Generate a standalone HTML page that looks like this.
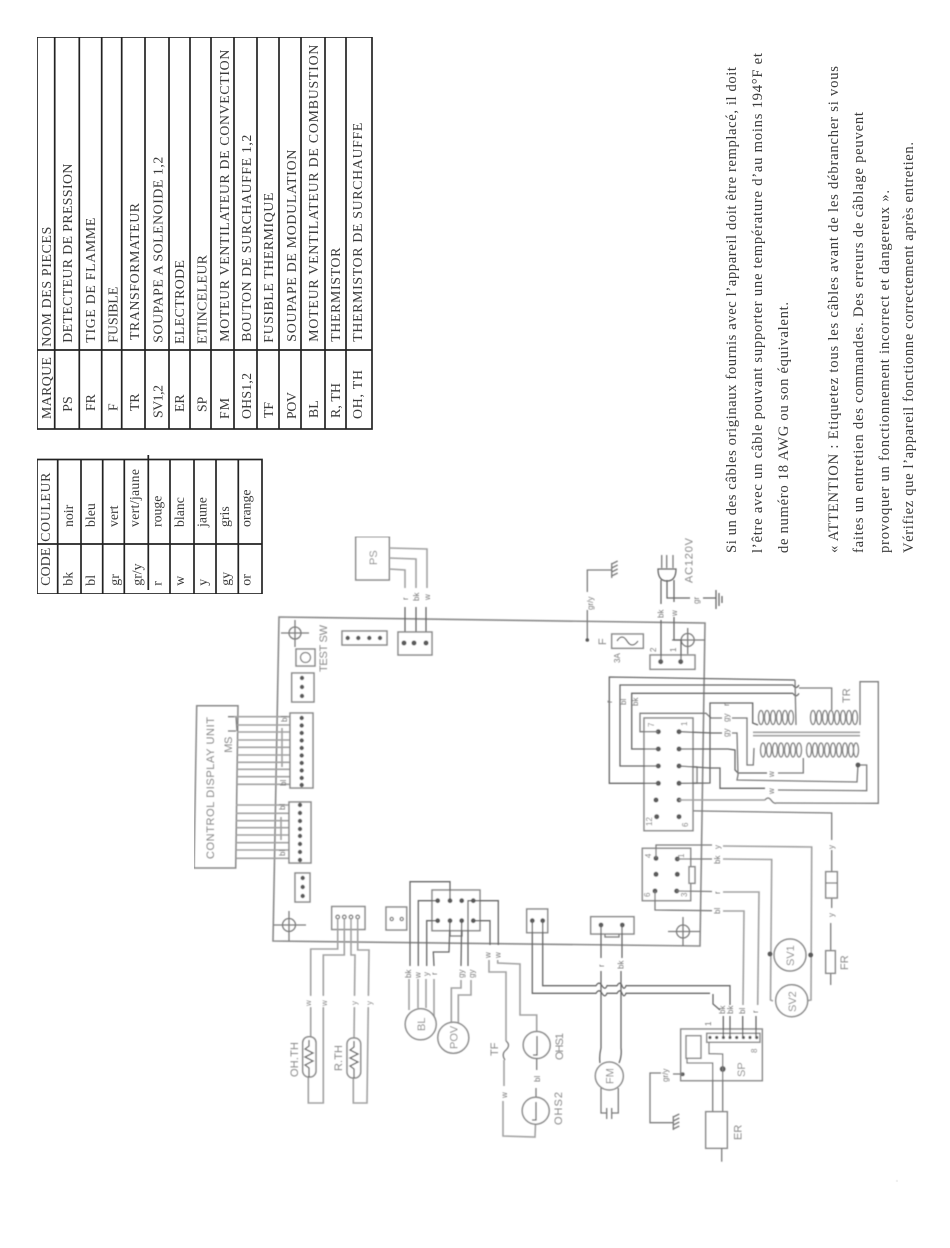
<!DOCTYPE html>
<html lang="fr"><head><meta charset="utf-8"><title>Schéma de câblage</title>
<style>
html,body{margin:0;padding:0;background:#fff}
svg{display:block}
.g{fill:none;stroke:#7c7c7c;stroke-width:1.3}
.d{fill:none;stroke:#666;stroke-width:1.3}
.l{fill:none;stroke:#a2a2a2;stroke-width:1.6}
.p{fill:#5a5a5a;stroke:none}
.b{fill:#fff;stroke:#8a8a8a;stroke-width:1.5}
.t{font-family:"Liberation Serif",serif;font-size:13.8px;fill:#3a3a3a}
.s{font-family:"Liberation Serif",serif;font-size:14.6px;fill:#3a3a3a}
.a{font-family:"Liberation Sans",sans-serif;font-size:8px;fill:#777}
.a2{font-family:"Liberation Sans",sans-serif;font-size:11px;fill:#888}
</style></head><body>
<svg xmlns="http://www.w3.org/2000/svg" width="950" height="1248" viewBox="0 0 950 1248">
<defs><filter id="bl" x="0" y="0" width="100%" height="100%"><feGaussianBlur stdDeviation="0.6"/></filter>
<filter id="bs" x="0" y="0" width="100%" height="100%"><feGaussianBlur stdDeviation="0.3"/></filter></defs>
<rect width="950" height="1248" fill="#fff"/>

<g filter="url(#bs)">
<!-- Parts table -->
<g fill="none" stroke="#222" stroke-width="1.7">
<rect x="37" y="37" width="335" height="392"/>
<path d="M37 350H372M54.7 37V429M79.3 37V429M101.7 37V429M121.7 37V429M145 37V429M169 37V429M190 37V429M211 37V429M234 37V429M257 37V429M279 37V429M301 37V429M325 37V429M346 37V429"/>
</g>
<g class="t">
<text transform="translate(51,346.7) rotate(-90)" textLength="120">NOM DES PIECES</text>
<text transform="translate(72,342.7) rotate(-90)" textLength="179">DETECTEUR DE PRESSION</text>
<text transform="translate(95,342.7) rotate(-90)" textLength="125">TIGE DE FLAMME</text>
<text transform="translate(117.7,342.7) rotate(-90)" textLength="56">FUSIBLE</text>
<text transform="translate(139,340) rotate(-90)" textLength="137">TRANSFORMATEUR</text>
<text transform="translate(162.7,342.7) rotate(-90)" textLength="186">SOUPAPE A SOLENOIDE 1,2</text>
<text transform="translate(184,344) rotate(-90)" textLength="84">ELECTRODE</text>
<text transform="translate(206.7,344) rotate(-90)" textLength="89">ETINCELEUR</text>
<text transform="translate(229,341.7) rotate(-90)" textLength="292">MOTEUR VENTILATEUR DE CONVECTION</text>
<text transform="translate(251,341.7) rotate(-90)" textLength="207">BOUTON DE SURCHAUFFE 1,2</text>
<text transform="translate(273,342.7) rotate(-90)" textLength="150">FUSIBLE THERMIQUE</text>
<text transform="translate(296,341.7) rotate(-90)" textLength="192">SOUPAPE DE MODULATION</text>
<text transform="translate(318,341.7) rotate(-90)" textLength="297">MOTEUR VENTILATEUR DE COMBUSTION</text>
<text transform="translate(340,341.7) rotate(-90)" textLength="94">THERMISTOR</text>
<text transform="translate(362,341.7) rotate(-90)" textLength="219">THERMISTOR DE SURCHAUFFE</text>
<text transform="translate(51,419) rotate(-90)" textLength="62">MARQUE</text>
<text transform="translate(72,411.7) rotate(-90)">PS</text>
<text transform="translate(95,411) rotate(-90)">FR</text>
<text transform="translate(117.7,411) rotate(-90)">F</text>
<text transform="translate(139,411) rotate(-90)">TR</text>
<text transform="translate(162.7,418) rotate(-90)" textLength="33">SV1,2</text>
<text transform="translate(184,412) rotate(-90)">ER</text>
<text transform="translate(206.7,412) rotate(-90)">SP</text>
<text transform="translate(229,419) rotate(-90)" textLength="21">F M</text>
<text transform="translate(251,419) rotate(-90)" textLength="46">OHS1,2</text>
<text transform="translate(273,418) rotate(-90)">TF</text>
<text transform="translate(296,419) rotate(-90)" textLength="27">POV</text>
<text transform="translate(318,418) rotate(-90)">BL</text>
<text transform="translate(340,418) rotate(-90)" textLength="35">R, TH</text>
<text transform="translate(362,419) rotate(-90)" textLength="49">OH, TH</text>
</g>

<!-- Colour table -->
<g fill="none" stroke="#222" stroke-width="1.7">
<rect x="37" y="459.5" width="225" height="134.5"/>
<path d="M37 544H262M57.7 459.5V594M81 459.5V594M102.7 459.5V594M124.3 459.5V594M148.3 455V590M170 459.5V594M194 459.5V594M216 459.5V594M238.3 459.5V594"/>
</g>
<g class="t">
<text transform="translate(50,541.7) rotate(-90)" textLength="69">COULEUR</text>
<text transform="translate(50,585.7) rotate(-90)" textLength="38">CODE</text>
<text transform="translate(73,527) rotate(-90)">noir</text>
<text transform="translate(95,527) rotate(-90)">bleu</text>
<text transform="translate(118,527) rotate(-90)">vert</text>
<text transform="translate(139,527) rotate(-90)" textLength="58">vert/jaune</text>
<text transform="translate(161.7,527) rotate(-90)">rouge</text>
<text transform="translate(184,527) rotate(-90)">blanc</text>
<text transform="translate(206.7,527) rotate(-90)">jaune</text>
<text transform="translate(229,527) rotate(-90)">gris</text>
<text transform="translate(250.7,527) rotate(-90)">orange</text>
<text transform="translate(72.7,585.7) rotate(-90)">bk</text>
<text transform="translate(95,585.7) rotate(-90)">bl</text>
<text transform="translate(119,585.7) rotate(-90)">gr</text>
<text transform="translate(141.7,585.7) rotate(-90)">gr/y</text>
<text transform="translate(161.7,585.7) rotate(-90)">r</text>
<text transform="translate(184,585.7) rotate(-90)">w</text>
<text transform="translate(207,585.7) rotate(-90)">y</text>
<text transform="translate(230,585.7) rotate(-90)">gy</text>
<text transform="translate(250.7,585.7) rotate(-90)">or</text>
</g>

<!-- Right-hand notes -->
<g class="s">
<text transform="translate(736,553) rotate(-90)" textLength="486">Si un des câbles originaux fournis avec l’appareil doit être remplacé, il doit</text>
<text transform="translate(762,553) rotate(-90)" textLength="500">l’être avec un câble pouvant supporter une température d’au moins 194°F et</text>
<text transform="translate(788,553) rotate(-90)" textLength="251">de numéro 18 AWG ou son équivalent.</text>
<text transform="translate(838,553) rotate(-90)" textLength="487">« ATTENTION : Etiquetez tous les câbles avant de les débrancher si vous</text>
<text transform="translate(863,553) rotate(-90)" textLength="441">faites un entretien des commandes. Des erreurs de câblage peuvent</text>
<text transform="translate(889,553) rotate(-90)" textLength="363">provoquer un fonctionnement incorrect et dangereux ».</text>
<text transform="translate(913,553) rotate(-90)" textLength="411">Vérifiez que l’appareil fonctionne correctement après entretien.</text>
</g>
</g>

<g filter="url(#bl)">
<!-- Board -->
<polygon points="279,617 705,623 700,946 273,941" fill="none" stroke="#8a8a8a" stroke-width="1.6"/>
<g class="g" stroke-width="1.3">
<circle cx="295" cy="633" r="6"/><path d="M281 633H309M295 620V647"/>
<circle cx="289" cy="925" r="6.5"/><path d="M274 925H306M289 911V941"/>
<circle cx="687.7" cy="640" r="6.5"/><path d="M672 640H705M687.7 628V654"/>
<circle cx="683" cy="931.5" r="6.5"/><path d="M668 931.5H700M683 917V946"/>
</g>

<!-- PS -->
<rect x="355.7" y="536.7" width="33.6" height="43.3" class="b" fill="none"/>
<polyline class="l" points="389,548 427,549 427,588"/>
<polyline class="l" points="389,558 416,559 416,588"/>
<polyline class="l" points="389,569 405,570 405,588"/>
<path class="d" d="M405 607V643M416 607V643M426 607V643"/>
<rect x="398" y="632" width="34" height="23" class="b" fill="none" stroke-width="1"/>
<circle class="p" cx="404" cy="643" r="2.5"/><circle class="p" cx="414" cy="643" r="2.5"/><circle class="p" cx="426" cy="643" r="2.5"/>
<g class="a"><text transform="translate(408,600) rotate(-90)">r</text><text transform="translate(419,601) rotate(-90)">bk</text><text transform="translate(430,600) rotate(-90)">w</text></g>
<text class="a2" transform="translate(377,565) rotate(-90)">PS</text>

<!-- small connectors -->
<rect x="342" y="631" width="45" height="14" class="b" fill="none"/>
<circle class="p" cx="347.7" cy="638" r="2.2"/><circle class="p" cx="358.3" cy="638" r="2.2"/><circle class="p" cx="369.3" cy="638" r="2.2"/><circle class="p" cx="380" cy="638" r="2.2"/>
<rect x="296" y="649" width="19" height="17" class="b" fill="none"/><circle cx="305.5" cy="657.5" r="5" class="g"/>
<text class="a2" transform="translate(327,672) rotate(-90)" textLength="47">TEST SW</text>
<rect x="291.7" y="673" width="22.3" height="29" class="b" fill="none"/>
<circle class="p" cx="302" cy="678" r="2.2"/><circle class="p" cx="302" cy="687" r="2.2"/><circle class="p" cx="302" cy="696" r="2.2"/>
<rect x="295" y="873" width="15" height="29" class="b" fill="none"/>
<circle class="p" cx="302.7" cy="878" r="2.2"/><circle class="p" cx="302.7" cy="887" r="2.2"/><circle class="p" cx="302.7" cy="896" r="2.2"/>

<!-- Control display unit -->
<polygon points="196.7,705.7 238,705.7 235.7,868 194,868" fill="none" stroke="#888" stroke-width="1.5"/>
<text class="a2" transform="translate(214,859) rotate(-90)" textLength="142">CONTROL DISPLAY UNIT</text>
<text class="a2" transform="translate(232,752.7) rotate(-90)" textLength="16">MS</text>
<path class="g" d="M228 716.7H236M236 716.7L237 731M228 731H236"/>
<path class="l" d="M234 716.7H290M237 725H290M237 732H290M237 740H290M237 747.3H290M237 755H290M237 762.3H290M237 769.3H290M237 776.7H290M237 784.3H290"/>
<path class="l" d="M236 805H290M236 813.3H290M236 820.7H290M236 827.7H290M236 835H290M236 842.7H290M236 850H290M236 858.3H290"/>
<path class="d" d="M290 718H302M290 725.5H302M290 733H302M290 740.5H302M290 748H302M290 755.5H302M290 763H302M290 770.5H302M290 778H302M290 785H302"/>
<path class="d" d="M290 805H300M290 813H300M290 821H300M290 829H300M290 836H300M290 844H300M290 852H300M290 860H300"/>
<rect x="290" y="713" width="23" height="75" class="b" fill="none" stroke-width="1.8"/>
<rect x="289" y="802" width="22" height="61" class="b" fill="none" stroke-width="1.8"/>
<g class="p">
<circle cx="301.7" cy="718" r="2.2"/><circle cx="301.7" cy="725.5" r="2.2"/><circle cx="301.7" cy="733" r="2.2"/><circle cx="301.7" cy="740.5" r="2.2"/><circle cx="301.7" cy="748" r="2.2"/><circle cx="301.7" cy="755.5" r="2.2"/><circle cx="301.7" cy="763" r="2.2"/><circle cx="301.7" cy="770.5" r="2.2"/><circle cx="301.7" cy="778" r="2.2"/><circle cx="301.7" cy="785" r="2.2"/>
<circle cx="300" cy="805" r="2.2"/><circle cx="300" cy="813" r="2.2"/><circle cx="300" cy="821" r="2.2"/><circle cx="300" cy="829" r="2.2"/><circle cx="300" cy="836" r="2.2"/><circle cx="300" cy="844" r="2.2"/><circle cx="300" cy="852" r="2.2"/><circle cx="300" cy="860" r="2.2"/>
</g>
<path class="l" d="M282 728V767M281 817V840"/>
<g class="a"><text transform="translate(287,722) rotate(-90)">bl</text><text transform="translate(286,786) rotate(-90)">bl</text><text transform="translate(285,810) rotate(-90)">bl</text><text transform="translate(285,856) rotate(-90)">bl</text></g>

<!-- Bottom left connector and thermistors -->
<rect x="331.7" y="906.5" width="33.3" height="23" class="b" fill="none"/>
<g class="g"><circle cx="337.7" cy="917" r="1.8"/><circle cx="344.3" cy="917" r="1.8"/><circle cx="351" cy="917" r="1.8"/><circle cx="357.7" cy="917" r="1.8"/></g>
<polyline class="l" points="337.7,919 337.7,949 310.7,949 310.7,1037"/>
<polyline class="l" points="344.3,919 344.3,955 323.3,955 323.3,1103 308.3,1103 308.3,1077"/>
<polyline class="l" points="351,919 351,955 355,955 354,1040"/>
<polyline class="l" points="357.7,919 357.7,950 369,950 367,1103 353.3,1103 353.3,1077"/>
<rect x="302.7" y="1036.7" width="13.3" height="40.3" rx="6" class="b" fill="none"/>
<polyline class="d" points="309,1040 309,1046 305,1049 313,1053 305,1057 313,1061 305,1065 309,1068 309,1077"/>
<rect x="347" y="1038" width="13.7" height="40" rx="6" class="b" fill="none"/>
<polyline class="d" points="354,1041 354,1047 350,1050 358,1054 350,1058 358,1062 350,1066 354,1069 354,1078"/>
<text class="a2" transform="translate(298,1077) rotate(-90)" textLength="35">OH.TH</text>
<text class="a2" transform="translate(342,1071) rotate(-90)" textLength="26">R.TH</text>
<g class="a"><rect x="304" y="996" width="8" height="11" fill="#fff"/><rect x="320" y="996" width="8" height="11" fill="#fff"/><rect x="350" y="996" width="8" height="11" fill="#fff"/><rect x="365" y="996" width="8" height="11" fill="#fff"/>
<text transform="translate(311,1006) rotate(-90)">w</text><text transform="translate(327,1006) rotate(-90)">w</text><text transform="translate(357,1005) rotate(-90)">y</text><text transform="translate(372,1005) rotate(-90)">y</text></g>

<rect x="386" y="907" width="20.7" height="23" class="b" fill="none"/>
<circle class="g" cx="391.7" cy="919" r="1.6"/><circle class="g" cx="401.7" cy="919" r="1.6"/>

<!-- 8-pin -->
<rect x="432" y="890" width="48" height="40.7" class="b" fill="none"/>
<path class="g" d="M450 930V936H462V930"/>
<polyline class="d" points="450,900.7 450,881.7 410,881.7 410,966"/>
<polyline class="d" points="437.7,900.7 418.3,900.7 418.3,966"/>
<polyline class="d" points="437.7,920.7 426.7,920.7 426.7,966"/>
<polyline class="d" points="450,920.7 449,952 433.3,952 434,966"/>
<polyline class="d" points="461.7,920.7 461,966"/>
<polyline class="d" points="473.3,900.7 468,900.7 468,966"/>
<polyline class="l" points="409,979 409,1010"/><polyline class="l" points="418,979 418,1008"/><polyline class="l" points="426,979 426,1008"/><polyline class="l" points="434,979 434,1016"/>
<polyline class="l" points="461,980 461,988 451.3,988 451.3,1023"/>
<polyline class="l" points="471,980 471,995 458.3,995 458.3,1023"/>
<polyline class="d" points="473.3,900.7 498.3,900.7 498.3,945"/>
<polyline class="d" points="473.3,920.7 490,920.7 490,945"/>
<polyline class="l" points="497.7,960 497.7,963 520,964 520,1015 536.7,1015 536.7,1033"/>
<polyline class="l" points="489,960 489,972 506,972 506,1041"/>
<g class="p"><circle cx="437.7" cy="900.7" r="2.4"/><circle cx="450" cy="900.7" r="2.4"/><circle cx="461.7" cy="900.7" r="2.4"/><circle cx="473.3" cy="900.7" r="2.4"/><circle cx="437.7" cy="920.7" r="2.4"/><circle cx="450" cy="920.7" r="2.4"/><circle cx="461.7" cy="920.7" r="2.4"/><circle cx="473.3" cy="920.7" r="2.4"/></g>
<g class="a"><text transform="translate(411,978) rotate(-90)">bk</text><text transform="translate(420.5,978) rotate(-90)">w</text><text transform="translate(429,976) rotate(-90)">y</text><text transform="translate(437,975) rotate(-90)">r</text><text transform="translate(464,978) rotate(-90)">gy</text><text transform="translate(474.5,978) rotate(-90)">gy</text><text transform="translate(490.5,958) rotate(-90)">w</text><text transform="translate(500.5,958) rotate(-90)">w</text></g>

<circle cx="420.7" cy="1024.3" r="15.5" class="b" fill="none"/>
<text class="a2" transform="translate(425,1031) rotate(-90)">BL</text>
<circle cx="453.3" cy="1037.7" r="15.5" class="b" fill="none"/>
<text class="a2" transform="translate(457.5,1049) rotate(-90)">POV</text>

<!-- TF OHS -->
<path class="g" d="M506 1041q5 4 0 9q-5 4 -1 10"/>
<polyline class="l" points="504,1060 504,1086"/><polyline class="l" points="503,1101 503,1136 535,1137 535.5,1124"/>
<text class="a" transform="translate(507,1098) rotate(-90)">w</text>
<text class="a2" transform="translate(498,1056) rotate(-90)">TF</text>
<circle cx="536.7" cy="1045" r="13.5" class="b" fill="none"/><path class="d" d="M537 1036v19h-4" stroke-width="2"/>
<circle cx="535.7" cy="1110.7" r="13.5" class="b" fill="none"/><path class="d" d="M536 1102v18h-4" stroke-width="2"/>
<path class="g" d="M536.7 1058V1070M536 1088V1097"/>
<text class="a" transform="translate(540,1082) rotate(-90)">bl</text>
<text class="a2" transform="translate(563,1060) rotate(-90)" textLength="27">OHS1</text>
<text class="a2" transform="translate(562,1125) rotate(-90)" textLength="33">OHS2</text>

<!-- 2 pin connector + long wires -->
<rect x="526.7" y="909" width="21" height="23.7" class="b" fill="none"/>
<circle class="p" cx="532.3" cy="920.7" r="2.4"/><circle class="p" cx="542.7" cy="920.7" r="2.4"/>
<path class="d" d="M532.3 921V993.3H596q3 -5 6 0t5 0H617q3 -5 5 0t4 0H710M542.7 921V985.7H596q3 -5 6 0t5 0H617q3 -5 5 0t4 0H730V1005"/>
<path class="d" d="M713 994V1004L720 1010"/>

<!-- FM -->
<rect x="590.7" y="916.7" width="43.3" height="17.3" class="b" fill="none"/>
<path class="g" d="M605 934V937H619V934"/>
<circle class="p" cx="601" cy="925" r="2.4"/><circle class="p" cx="622.3" cy="925" r="2.4"/>
<path class="d" d="M601 925V958M601 971V1048Q599 1056 600 1063M622 925V958M621 971V1048Q622 1056 619 1063"/>
<text class="a" transform="translate(604,967) rotate(-90)">r</text><text class="a" transform="translate(623.5,969) rotate(-90)">bk</text>
<circle cx="609.3" cy="1076" r="14" class="b" fill="none"/>
<text class="a2" transform="translate(613.5,1084) rotate(-90)">FM</text>
<path class="g" d="M601 1088V1113H606.7M606.7 1108V1119M611.7 1108V1119M611.7 1113H618.3V1088"/>

<!-- 6 pin relay -->
<rect x="642.3" y="848.3" width="48.4" height="52.4" class="b" fill="none"/>
<rect x="689" y="866.7" width="6" height="16.6" class="b" fill="none" stroke-width="1"/>
<g class="p"><circle cx="656" cy="858.3" r="2.5"/><circle cx="677.3" cy="859" r="2.5"/><circle cx="656" cy="874.3" r="2.5"/><circle cx="677.3" cy="874.3" r="2.5"/><circle cx="655" cy="891" r="2.5"/><circle cx="676.7" cy="891" r="2.5"/></g>
<g class="a" font-size="7"><text transform="translate(651,858) rotate(-90)">4</text><text transform="translate(684,858) rotate(-90)">1</text><text transform="translate(650,897) rotate(-90)">6</text><text transform="translate(687,897) rotate(-90)">3</text></g>
<polyline class="g" points="656,858 656,845 712,845"/><polyline class="l" points="723,846 811.7,847 811,1000 806,1001"/>
<polyline class="g" points="677.3,859 712,859"/><polyline class="l" points="723,859 771.7,859.5 770.5,1000 773,1001"/>
<polyline class="g" points="676.7,891 712,891.5"/><polyline class="l" points="723,892 759,892 757.7,1005"/>
<polyline class="g" points="655,891 655,910 712,910.7"/><polyline class="l" points="723,911 744,911 743,1005"/>
<g class="a"><text transform="translate(720,849) rotate(-90)">y</text><text transform="translate(720,864) rotate(-90)">bk</text><text transform="translate(720,894) rotate(-90)">r</text><text transform="translate(720,914) rotate(-90)">bl</text></g>
<circle cx="790" cy="955" r="16" class="b" fill="#fff"/><circle cx="791.7" cy="1000.7" r="16" class="b" fill="#fff"/>
<text class="a2" transform="translate(794,966) rotate(-90)">SV1</text><text class="a2" transform="translate(796,1012) rotate(-90)">SV2</text>
<circle class="p" cx="770" cy="954" r="2.4"/><circle class="p" cx="810.7" cy="955" r="2.4"/>

<!-- FR -->
<polyline class="g" points="656.7,816.7 657,810.3 831.7,813 831.7,840"/>
<path class="g" d="M831.7 850V871.7M831.7 898V908M830.7 923V950.7M830.7 973.3V985"/>
<rect x="825.7" y="871.7" width="11.6" height="26.3" class="b" fill="none"/><path class="g" d="M825.7 883H837.3"/>
<rect x="825.7" y="950.7" width="9.6" height="22.6" class="b" fill="none"/>
<text class="a" transform="translate(834,849) rotate(-90)">y</text><text class="a" transform="translate(834,917) rotate(-90)">y</text>
<text class="a2" transform="translate(848,970) rotate(-90)">FR</text>

<!-- SP -->
<rect x="680.7" y="1029" width="81.6" height="51.7" class="b" fill="none"/>
<rect x="706.7" y="1033.3" width="53.3" height="9" class="b" fill="none" stroke-width="1.4"/>
<g class="p"><circle cx="710" cy="1037.5" r="1.6"/><circle cx="716.7" cy="1037.5" r="1.6"/><circle cx="723.4" cy="1037.5" r="1.6"/><circle cx="730" cy="1037.5" r="1.6"/><circle cx="736.7" cy="1037.5" r="1.6"/><circle cx="743.4" cy="1037.5" r="1.6"/><circle cx="750" cy="1037.5" r="1.6"/><circle cx="756.7" cy="1037.5" r="1.6"/><circle cx="722.7" cy="1069" r="3"/><circle cx="682.7" cy="1074.3" r="2"/></g>
<rect x="686" y="1035.7" width="15" height="22.6" class="b" fill="none" stroke-width="1.2"/>
<polyline class="g" points="687,1059 687,1063 712.7,1063 712.7,1112"/>
<polyline class="g" points="709,1043 709,1053.7 722.7,1054 722.7,1112"/>
<path class="d" d="M723.3 1016V1037M730 1016V1037M742.7 1016V1037M756 1016V1037"/>
<g class="a"><text transform="translate(725,1014) rotate(-90)">bk</text><text transform="translate(733,1014) rotate(-90)">bk</text><text transform="translate(745,1014) rotate(-90)">bl</text><text transform="translate(758,1013) rotate(-90)">r</text></g>
<text class="a" transform="translate(711,1026) rotate(-90)" font-size="7">1</text><text class="a" transform="translate(757,1053) rotate(-90)" font-size="7">8</text>
<text class="a2" transform="translate(745,1077) rotate(-90)">SP</text>
<path class="g" d="M682.7 1074H673M661 1073H650V1122.7H673.3"/>
<text class="a" transform="translate(668,1082) rotate(-90)">gr/y</text>
<path class="g" d="M673.3 1116V1130M673.3 1117l6 -3M673.3 1121l6 -3M673.3 1125l6 -3M673.3 1129l6 -3"/>
<rect x="705.7" y="1111.7" width="21.6" height="36.6" class="b" fill="none"/>
<path class="g" d="M721.7 1148V1161.7"/>
<text class="a2" transform="translate(741.7,1140) rotate(-90)">ER</text>

<!-- Power -->
<polyline class="g" points="587.3,640 587.3,610"/><polyline class="g" points="587.3,592 587.3,570 611.7,570"/>
<circle class="p" cx="587.3" cy="640" r="1.8"/>
<text class="a" transform="translate(593,610) rotate(-90)">gr/y</text>
<path class="g" d="M611.7 563V578M611.7 564l6 -3M611.7 568l6 -3M611.7 572l6 -3M611.7 576l6 -3"/>
<rect x="611.7" y="634" width="31.6" height="14.3" class="b" fill="none"/>
<path class="d" d="M617 641q5 -8 10 0t11 0"/>
<text class="a2" transform="translate(606,645) rotate(-90)" font-size="9">F</text>
<text class="a" transform="translate(620,663) rotate(-90)" font-size="9">3A</text>
<rect x="650" y="655" width="45" height="14.3" class="b" fill="none"/>
<circle class="p" cx="660.7" cy="661.7" r="2.5"/><circle class="p" cx="680.7" cy="661.7" r="2.5"/>
<text class="a" transform="translate(656,652) rotate(-90)" font-size="9">2</text><text class="a" transform="translate(676,652) rotate(-90)" font-size="9">1</text>
<path class="d" d="M661 662V620M661 604V580M681 662V640H674V617M674 602V580M667 580V598H690M703 598H716"/>
<text class="a" transform="translate(663.5,618) rotate(-90)">bk</text><text class="a" transform="translate(677,616) rotate(-90)">w</text><text class="a" transform="translate(699,604) rotate(-90)">gr</text>
<path class="d" d="M658 569Q658 581 667 581Q676 581 676 569Z" fill="none"/>
<path class="g" d="M661.7 555V568M666.7 555V568M673 555V568"/>
<text class="a2" transform="translate(692.7,583) rotate(-90)" textLength="45">AC120V</text>
<path class="d" d="M716 590V609M719 593V606M722 596V603"/>

<!-- 12 pin -->
<rect x="644" y="718" width="49" height="112.7" class="b" fill="none"/>
<rect x="693" y="767" width="4" height="16" class="b" fill="none" stroke-width="1"/>
<g class="p"><circle cx="658.3" cy="731.7" r="2.5"/><circle cx="679" cy="731.7" r="2.5"/><circle cx="658.3" cy="749" r="2.5"/><circle cx="679" cy="749" r="2.5"/><circle cx="658.3" cy="766" r="2.5"/><circle cx="679" cy="766" r="2.5"/><circle cx="658.3" cy="783.3" r="2.5"/><circle cx="679" cy="783.3" r="2.5"/><circle cx="656" cy="800" r="2.5"/><circle cx="679" cy="800" r="2.5"/><circle cx="656.7" cy="816.7" r="2.5"/><circle cx="679" cy="816.7" r="2.5"/></g>
<g class="a" font-size="7"><text transform="translate(654,727) rotate(-90)">7</text><text transform="translate(687,726) rotate(-90)">1</text><text transform="translate(652,826) rotate(-90)">12</text><text transform="translate(688,827) rotate(-90)">6</text></g>
<polyline class="g" points="658,731.7 640,731.7 640,713.3 706,713.3 711,718 722,718"/>
<polyline class="d" points="658,749 631.7,749 631.7,693.3 793,693.3"/>
<polyline class="d" points="658,766 620,766 620,685 793,685"/>
<polyline class="d" points="658,783.3 609.3,783.3 609.3,677 795,680"/>
<g class="a"><text transform="translate(612,703) rotate(-90)">r</text><text transform="translate(626,705) rotate(-90)">bl</text><text transform="translate(638,706) rotate(-90)">bk</text></g>

<!-- Transformer wiring -->
<path class="d" d="M793 685q3 5 6 0M793 693.3q3 5 6 0"/>
<polyline class="g" points="799,688 831.7,688 831.7,710"/>
<polyline class="g" points="795,680 796,725"/>
<polyline class="d" points="679,731.7 712,733 722,733"/>
<polyline class="d" points="679,749 728,749 735,750 735,770 738,773 767,773"/>
<polyline class="g" points="778,773 803.3,773 803.3,758"/>
<polyline class="d" points="679,766 710,768 720,768 720,788.3 765,788.3"/>
<polyline class="g" points="778,790 866.7,790.7 866.7,765 857,765"/>
<polyline class="d" points="679,783.3 710,783 710,703 752.7,703 752.7,723 758,725"/>
<polyline class="g" points="732,718 747,718 747,765 753.3,765 754,748"/>
<polyline class="g" points="732,733 737,733 738,775 737,780 857,782 858,765"/>
<polyline class="l" points="679,800 765,800"/>
<path class="g" d="M765 800q3 -4 6 0t5 3"/>
<polyline class="g" points="776,803 878.3,803.3 878.3,681.7 860,681.7 860,725"/>
<text class="a" transform="translate(729,706) rotate(-90)">r</text>
<text class="a" transform="translate(729,722) rotate(-90)">gy</text><text class="a" transform="translate(729,737) rotate(-90)">gy</text>
<text class="a" transform="translate(774,777) rotate(-90)">w</text><text class="a" transform="translate(774,794) rotate(-90)">w</text>
<path class="l" d="M753 732.3H860M753 735.7H860"/>
<circle class="p" cx="858" cy="765" r="2.4"/>
<g fill="none" stroke="#858585" stroke-width="1.3">
<ellipse cx="761" cy="717.5" rx="2.5" ry="7"/><ellipse cx="767" cy="717.5" rx="2.5" ry="7"/><ellipse cx="773" cy="717.5" rx="2.5" ry="7"/><ellipse cx="779" cy="717.5" rx="2.5" ry="7"/><ellipse cx="785" cy="717.5" rx="2.5" ry="7"/><ellipse cx="791" cy="717.5" rx="2.5" ry="7"/>
<ellipse cx="813" cy="717.5" rx="2.5" ry="7"/><ellipse cx="819" cy="717.5" rx="2.5" ry="7"/><ellipse cx="825" cy="717.5" rx="2.5" ry="7"/><ellipse cx="831" cy="717.5" rx="2.5" ry="7"/><ellipse cx="837" cy="717.5" rx="2.5" ry="7"/><ellipse cx="843" cy="717.5" rx="2.5" ry="7"/><ellipse cx="849" cy="717.5" rx="2.5" ry="7"/><ellipse cx="855" cy="717.5" rx="2.5" ry="7"/>
<ellipse cx="763" cy="750" rx="2.5" ry="7"/><ellipse cx="769" cy="750" rx="2.5" ry="7"/><ellipse cx="775" cy="750" rx="2.5" ry="7"/><ellipse cx="781" cy="750" rx="2.5" ry="7"/><ellipse cx="787" cy="750" rx="2.5" ry="7"/><ellipse cx="793" cy="750" rx="2.5" ry="7"/><ellipse cx="799" cy="750" rx="2.5" ry="7"/>
<ellipse cx="809" cy="750" rx="2.5" ry="7"/><ellipse cx="815" cy="750" rx="2.5" ry="7"/><ellipse cx="821" cy="750" rx="2.5" ry="7"/><ellipse cx="827" cy="750" rx="2.5" ry="7"/><ellipse cx="833" cy="750" rx="2.5" ry="7"/><ellipse cx="839" cy="750" rx="2.5" ry="7"/><ellipse cx="845" cy="750" rx="2.5" ry="7"/><ellipse cx="851" cy="750" rx="2.5" ry="7"/><ellipse cx="856" cy="750" rx="2.5" ry="7"/>
</g>
<text class="a2" transform="translate(850,703) rotate(-90)" font-size="9">TR</text>
<circle cx="897" cy="1181" r="0.6" fill="#bbb"/>
</g>
</svg>
</body></html>
